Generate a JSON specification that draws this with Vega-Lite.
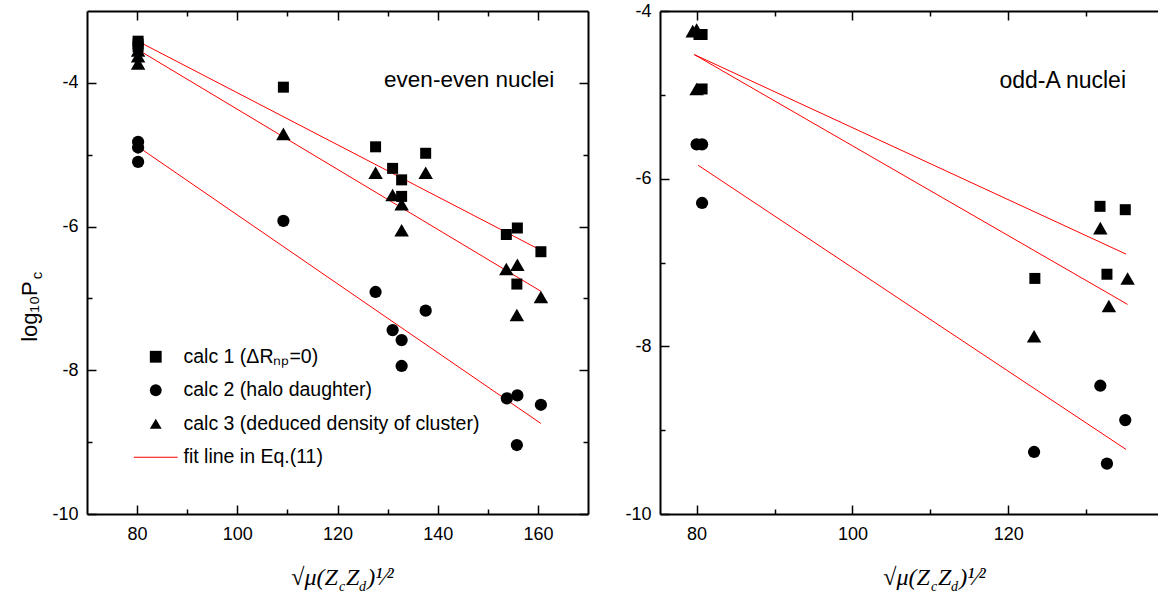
{
  "$schema": "https://vega.github.io/schema/vega-lite/v6.json",
  "background": "white",
  "padding": {"left": 18, "top": 2, "right": 0, "bottom": 0},
  "spacing": 72,
  "bounds": "flush",
  "config": {
    "view": {"stroke": null},
    "font": "Liberation Sans",
    "axis": {
      "grid": false,
      "domainColor": "black",
      "domainWidth": 2,
      "tickColor": "black",
      "labelColor": "black",
      "titleColor": "black",
      "labelFont": "Liberation Sans",
      "labelFontSize": 18,
      "labelExpr": "datum.value + ''",
      "titleFontWeight": "normal"
    }
  },
  "resolve": {"scale": {"shape": "independent", "color": "independent", "x": "independent", "y": "independent"}, "legend": {"shape": "independent", "color": "independent"}},
  "datasets": {
    "ee": [
      {"x": 80.2, "y": -3.42, "s": "calc 1 (ΔRₙₚ=0)"},
      {"x": 80.2, "y": -3.46, "s": "calc 1 (ΔRₙₚ=0)"},
      {"x": 80.2, "y": -3.50, "s": "calc 1 (ΔRₙₚ=0)"},
      {"x": 109.2, "y": -4.06, "s": "calc 1 (ΔRₙₚ=0)"},
      {"x": 127.6, "y": -4.89, "s": "calc 1 (ΔRₙₚ=0)"},
      {"x": 137.6, "y": -4.98, "s": "calc 1 (ΔRₙₚ=0)"},
      {"x": 131.0, "y": -5.19, "s": "calc 1 (ΔRₙₚ=0)"},
      {"x": 132.8, "y": -5.35, "s": "calc 1 (ΔRₙₚ=0)"},
      {"x": 132.8, "y": -5.58, "s": "calc 1 (ΔRₙₚ=0)"},
      {"x": 153.7, "y": -6.11, "s": "calc 1 (ΔRₙₚ=0)"},
      {"x": 155.9, "y": -6.02, "s": "calc 1 (ΔRₙₚ=0)"},
      {"x": 160.6, "y": -6.35, "s": "calc 1 (ΔRₙₚ=0)"},
      {"x": 155.8, "y": -6.80, "s": "calc 1 (ΔRₙₚ=0)"},
      {"x": 80.2, "y": -4.82, "s": "calc 2 (halo daughter)"},
      {"x": 80.2, "y": -4.90, "s": "calc 2 (halo daughter)"},
      {"x": 80.2, "y": -5.10, "s": "calc 2 (halo daughter)"},
      {"x": 109.2, "y": -5.92, "s": "calc 2 (halo daughter)"},
      {"x": 127.6, "y": -6.91, "s": "calc 2 (halo daughter)"},
      {"x": 137.6, "y": -7.17, "s": "calc 2 (halo daughter)"},
      {"x": 131.0, "y": -7.44, "s": "calc 2 (halo daughter)"},
      {"x": 132.8, "y": -7.58, "s": "calc 2 (halo daughter)"},
      {"x": 132.8, "y": -7.94, "s": "calc 2 (halo daughter)"},
      {"x": 153.8, "y": -8.39, "s": "calc 2 (halo daughter)"},
      {"x": 155.9, "y": -8.35, "s": "calc 2 (halo daughter)"},
      {"x": 160.6, "y": -8.48, "s": "calc 2 (halo daughter)"},
      {"x": 155.8, "y": -9.04, "s": "calc 2 (halo daughter)"},
      {"x": 80.2, "y": -3.55, "s": "calc 3 (deduced density of cluster)"},
      {"x": 80.2, "y": -3.63, "s": "calc 3 (deduced density of cluster)"},
      {"x": 80.2, "y": -3.73, "s": "calc 3 (deduced density of cluster)"},
      {"x": 109.2, "y": -4.71, "s": "calc 3 (deduced density of cluster)"},
      {"x": 127.6, "y": -5.25, "s": "calc 3 (deduced density of cluster)"},
      {"x": 137.6, "y": -5.25, "s": "calc 3 (deduced density of cluster)"},
      {"x": 131.0, "y": -5.56, "s": "calc 3 (deduced density of cluster)"},
      {"x": 132.8, "y": -5.69, "s": "calc 3 (deduced density of cluster)"},
      {"x": 132.8, "y": -6.05, "s": "calc 3 (deduced density of cluster)"},
      {"x": 153.7, "y": -6.59, "s": "calc 3 (deduced density of cluster)"},
      {"x": 155.9, "y": -6.53, "s": "calc 3 (deduced density of cluster)"},
      {"x": 160.6, "y": -6.98, "s": "calc 3 (deduced density of cluster)"},
      {"x": 155.8, "y": -7.23, "s": "calc 3 (deduced density of cluster)"}
    ],
    "eefit": [
      {"x": 80.7, "y": -3.44, "fit": "calc 1"},
      {"x": 160.6, "y": -6.33, "fit": "calc 1"},
      {"x": 80.2, "y": -3.54, "fit": "calc 3"},
      {"x": 160.6, "y": -6.90, "fit": "calc 3"},
      {"x": 80.2, "y": -4.89, "fit": "calc 2"},
      {"x": 160.6, "y": -8.74, "fit": "calc 2"}
    ],
    "eelab": [{"x": 129.3, "y": -3.96, "label": "even-even nuclei"}],
    "oa": [
      {"x": 80.3, "y": -4.28, "s": "calc 1"},
      {"x": 80.7, "y": -4.28, "s": "calc 1"},
      {"x": 80.7, "y": -4.93, "s": "calc 1"},
      {"x": 123.4, "y": -7.19, "s": "calc 1"},
      {"x": 131.76, "y": -6.33, "s": "calc 1"},
      {"x": 135.0, "y": -6.37, "s": "calc 1"},
      {"x": 132.65, "y": -7.14, "s": "calc 1"},
      {"x": 79.5, "y": -4.24, "s": "calc 3"},
      {"x": 80.0, "y": -4.22, "s": "calc 3"},
      {"x": 80.0, "y": -4.93, "s": "calc 3"},
      {"x": 123.3, "y": -7.88, "s": "calc 3"},
      {"x": 131.8, "y": -6.59, "s": "calc 3"},
      {"x": 135.3, "y": -7.19, "s": "calc 3"},
      {"x": 132.9, "y": -7.52, "s": "calc 3"},
      {"x": 80.0, "y": -5.59, "s": "calc 2"},
      {"x": 80.7, "y": -5.59, "s": "calc 2"},
      {"x": 80.7, "y": -6.29, "s": "calc 2"},
      {"x": 123.3, "y": -9.26, "s": "calc 2"},
      {"x": 131.8, "y": -8.47, "s": "calc 2"},
      {"x": 135.0, "y": -8.88, "s": "calc 2"},
      {"x": 132.65, "y": -9.40, "s": "calc 2"}
    ],
    "oafit": [
      {"x": 79.7, "y": -4.52, "fit": "calc 1"},
      {"x": 135.1, "y": -6.90, "fit": "calc 1"},
      {"x": 79.7, "y": -4.52, "fit": "calc 3"},
      {"x": 135.3, "y": -7.50, "fit": "calc 3"},
      {"x": 80.2, "y": -5.84, "fit": "calc 2"},
      {"x": 135.1, "y": -9.23, "fit": "calc 2"}
    ],
    "oalab": [{"x": 118.85, "y": -4.84, "label": "odd-A nuclei"}]
  },
  "hconcat": [
    {
      "width": 501,
      "height": 503,
      "resolve": {"axis": {"x": "independent", "y": "independent"}},
      "layer": [
        {
          "data": {"name": "eefit"},
          "mark": {"type": "line", "color": "#ff0000", "strokeWidth": 1},
          "encoding": {
            "x": {"field": "x", "type": "quantitative", "scale": {"domain": [70, 170], "nice": false, "zero": false},
              "axis": {"orient": "bottom", "values": [90, 110, 130, 150], "tickSize": -5, "tickWidth": 1.5, "labels": false, "domain": false,
                "title": "c\u2003d", "titleFont": "Liberation Serif", "titleFontStyle": "italic", "titleFontSize": 14, "titleBaseline": "alphabetic", "titleAlign": "center", "titleX": 265, "titleY": 76}},
            "y": {"field": "y", "type": "quantitative", "scale": {"domain": [-10, -3], "nice": false, "zero": false},
              "axis": {"orient": "left", "values": [-9, -7, -5], "tickSize": -5, "tickWidth": 1.5, "labels": false, "domain": false,
                "title": "c", "titleFontSize": 15, "titleAngle": 270, "titleBaseline": "alphabetic", "titleAlign": "center", "titleX": -46, "titleY": 264}},
            "detail": {"field": "fit", "type": "nominal"}
          }
        },
        {
          "data": {"name": "ee"},
          "mark": {"type": "point", "filled": true, "opacity": 1},
          "encoding": {
            "x": {"field": "x", "type": "quantitative", "scale": {"domain": [70, 170], "nice": false, "zero": false},
              "axis": {"orient": "bottom", "values": [80, 100, 120, 140, 160], "tickSize": -9, "tickWidth": 1.5, "labelPadding": 20,
                "title": "√μ(Z\u2004Z\u2004)¹⁄²", "titleFont": "Liberation Serif", "titleFontStyle": "italic", "titleFontSize": 24, "titleBaseline": "alphabetic", "titleAlign": "center", "titleX": 255, "titleY": 70}},
            "y": {"field": "y", "type": "quantitative", "scale": {"domain": [-10, -3], "nice": false, "zero": false},
              "axis": {"orient": "left", "values": [-10, -8, -6, -4], "tickSize": -9, "tickWidth": 1.5, "labelPadding": 18,
                "title": "log₁₀P", "titleFontSize": 22, "titleAngle": 270, "titleBaseline": "alphabetic", "titleAlign": "center", "titleX": -51, "titleY": 300}},
            "shape": {"field": "s", "type": "nominal",
              "scale": {"domain": ["calc 1 (ΔRₙₚ=0)", "calc 2 (halo daughter)", "calc 3 (deduced density of cluster)", "fit line in Eq.(11)"],
                "range": ["square", "circle", "triangle-up", "M-3.7,-0.09L3.7,-0.09L3.7,0.09L-3.7,0.09Z"]},
              "legend": {"orient": "none", "legendX": 59, "legendY": 336, "title": null, "labelFont": "Liberation Sans", "labelFontSize": 19.5, "labelColor": "black", "labelOffset": 18, "rowPadding": 12.5, "symbolSize": 140, "symbolStrokeWidth": 0, "padding": 0, "labelLimit": 500}},
            "color": {"field": "s", "type": "nominal",
              "scale": {"domain": ["calc 1 (ΔRₙₚ=0)", "calc 2 (halo daughter)", "calc 3 (deduced density of cluster)", "fit line in Eq.(11)"],
                "range": ["black", "black", "black", "#ff0000"]},
              "legend": {"orient": "none", "legendX": 59, "legendY": 336, "title": null, "labelFont": "Liberation Sans", "labelFontSize": 19.5, "labelColor": "black", "labelOffset": 18, "rowPadding": 12.5, "symbolSize": 140, "symbolStrokeWidth": 0, "padding": 0, "labelLimit": 500}},
            "size": {"condition": [{"test": "datum.s === 'calc 1 (ΔRₙₚ=0)'", "value": 121}, {"test": "datum.s === 'calc 3 (deduced density of cluster)'", "value": 210}], "value": 150}
          }
        },
        {
          "data": {"name": "eelab"},
          "mark": {"type": "text", "align": "left", "baseline": "middle", "fontSize": 22.5, "font": "Liberation Sans", "color": "black"},
          "encoding": {
            "x": {"field": "x", "type": "quantitative", "scale": {"domain": [70, 170], "nice": false, "zero": false},
              "axis": {"orient": "top", "values": [80, 100, 120, 140, 160], "tickSize": -9, "tickWidth": 1.5, "labels": false, "title": null}},
            "y": {"field": "y", "type": "quantitative", "scale": {"domain": [-10, -3], "nice": false, "zero": false},
              "axis": {"orient": "right", "values": [-10, -8, -6, -4], "tickSize": -9, "tickWidth": 1.5, "labels": false, "title": null}},
            "text": {"field": "label", "type": "nominal"}
          }
        },
        {
          "data": {"name": "eelab"},
          "mark": {"type": "point", "opacity": 0},
          "encoding": {
            "x": {"field": "x", "type": "quantitative", "scale": {"domain": [70, 170], "nice": false, "zero": false},
              "axis": {"orient": "top", "values": [90, 110, 130, 150], "tickSize": -5, "tickWidth": 1.5, "labels": false, "domain": false, "title": null}},
            "y": {"field": "y", "type": "quantitative", "scale": {"domain": [-10, -3], "nice": false, "zero": false},
              "axis": {"orient": "right", "values": [-9, -7, -5], "tickSize": -5, "tickWidth": 1.5, "labels": false, "domain": false, "title": null}}
          }
        }
      ]
    },
    {
      "width": 498,
      "height": 503,
      "resolve": {"axis": {"x": "independent", "y": "independent"}},
      "layer": [
        {
          "data": {"name": "oafit"},
          "mark": {"type": "line", "color": "#ff0000", "strokeWidth": 1},
          "encoding": {
            "x": {"field": "x", "type": "quantitative", "scale": {"domain": [75.3, 139.2], "nice": false, "zero": false},
              "axis": {"orient": "bottom", "values": [90, 110, 130], "tickSize": -5, "tickWidth": 1.5, "labels": false, "domain": false,
                "title": "c\u2003d", "titleFont": "Liberation Serif", "titleFontStyle": "italic", "titleFontSize": 14, "titleBaseline": "alphabetic", "titleAlign": "center", "titleX": 284, "titleY": 76}},
            "y": {"field": "y", "type": "quantitative", "scale": {"domain": [-10, -4], "nice": false, "zero": false},
              "axis": {"orient": "left", "values": [-9, -7, -5], "tickSize": -5, "tickWidth": 1.5, "labels": false, "domain": false, "title": null}},
            "detail": {"field": "fit", "type": "nominal"}
          }
        },
        {
          "data": {"name": "oa"},
          "mark": {"type": "point", "filled": true, "opacity": 1, "color": "black"},
          "encoding": {
            "x": {"field": "x", "type": "quantitative", "scale": {"domain": [75.3, 139.2], "nice": false, "zero": false},
              "axis": {"orient": "bottom", "values": [80, 100, 120], "tickSize": -9, "tickWidth": 1.5, "labelPadding": 20,
                "title": "√μ(Z\u2004Z\u2004)¹⁄²", "titleFont": "Liberation Serif", "titleFontStyle": "italic", "titleFontSize": 24, "titleBaseline": "alphabetic", "titleAlign": "center", "titleX": 274, "titleY": 70}},
            "y": {"field": "y", "type": "quantitative", "scale": {"domain": [-10, -4], "nice": false, "zero": false},
              "axis": {"orient": "left", "values": [-10, -8, -6, -4], "tickSize": -9, "tickWidth": 1.5, "labelPadding": 18, "title": null}},
            "shape": {"field": "s", "type": "nominal", "scale": {"domain": ["calc 1", "calc 2", "calc 3"], "range": ["square", "circle", "triangle-up"]}, "legend": null},
            "size": {"condition": [{"test": "datum.s === 'calc 1'", "value": 121}, {"test": "datum.s === 'calc 3'", "value": 210}], "value": 150}
          }
        },
        {
          "data": {"name": "oalab"},
          "mark": {"type": "text", "align": "left", "baseline": "middle", "fontSize": 23, "font": "Liberation Sans", "color": "black"},
          "encoding": {
            "x": {"field": "x", "type": "quantitative", "scale": {"domain": [75.3, 139.2], "nice": false, "zero": false},
              "axis": {"orient": "top", "values": [80, 100, 120], "tickSize": -9, "tickWidth": 1.5, "labels": false, "title": null}},
            "y": {"field": "y", "type": "quantitative", "scale": {"domain": [-10, -4], "nice": false, "zero": false}, "axis": null},
            "text": {"field": "label", "type": "nominal"}
          }
        },
        {
          "data": {"name": "oalab"},
          "mark": {"type": "point", "opacity": 0},
          "encoding": {
            "x": {"field": "x", "type": "quantitative", "scale": {"domain": [75.3, 139.2], "nice": false, "zero": false},
              "axis": {"orient": "top", "values": [90, 110, 130], "tickSize": -5, "tickWidth": 1.5, "labels": false, "domain": false, "title": null}},
            "y": {"field": "y", "type": "quantitative", "scale": {"domain": [-10, -4], "nice": false, "zero": false}, "axis": null}
          }
        }
      ]
    }
  ]
}
